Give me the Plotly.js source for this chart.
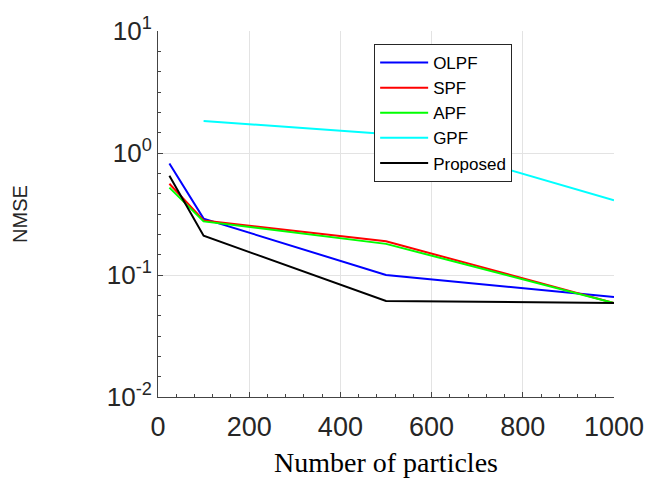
<!DOCTYPE html>
<html>
<head>
<meta charset="utf-8">
<script src="https://cdn.plot.ly/plotly-3.0.1.min.js"></script>
<style>html,body{margin:0;padding:0;background:#fff;}#chart{width:647px;height:480px;}</style>
</head>
<body>
<div id="chart"></div>
<script>
var particles = [25, 100, 500, 1000];
var gpfParticles = [100, 500, 1000];
var olpf = [0.82, 0.29, 0.10, 0.066];
var spf = [0.56, 0.28, 0.189, 0.059];
var apf = [0.52, 0.275, 0.18, 0.059];
var gpf = [1.83, 1.43, 0.41];
var proposed = [0.65, 0.21, 0.0612, 0.059];
var yTickVals = [0.01, 0.1, 1, 10];
var yTickText = ['10<sup>-2</sup>', '10<sup>-1</sup>', '10<sup>0</sup>', '10<sup>1</sup>'];
var xTickVals = [0, 200, 400, 600, 800, 1000];

var yMinor = [];
for (var k = -12; k <= 6; k++) { if (k % 6 !== 0) yMinor.push(Math.pow(10, k / 6)); }

function tr(x, y, name, color) {
  return {x: x, y: y, name: name, type: 'scatter', mode: 'lines',
          line: {color: color, width: 2}};
}
var data = [
  tr(particles, olpf, 'OLPF', '#0000ff'),
  tr(particles, spf, 'SPF', '#ff0000'),
  tr(particles, apf, 'APF', '#00ff00'),
  tr(gpfParticles, gpf, 'GPF', '#00ffff'),
  tr(particles, proposed, 'Proposed', '#000000')
];
var layout = {
  width: 647, height: 480,
  margin: {l: 158, r: 33, t: 31, b: 83},
  paper_bgcolor: '#fff', plot_bgcolor: '#fff',
  font: {family: 'Liberation Sans, Arial, sans-serif', color: '#262626'},
  showlegend: true,
  legend: {x: 0.474, y: 0.9645, xanchor: 'left', yanchor: 'top',
           bgcolor: '#fff', bordercolor: '#262626', borderwidth: 1,
           itemwidth: 48,
           font: {size: 17, color: '#000'}, tracegroupgap: 0},
  xaxis: {
    range: [0, 1000], tickmode: 'array', tickvals: xTickVals,
    ticks: 'inside', ticklen: 5, tickcolor: '#444', ticklabelstandoff: 6,
    showline: true, linecolor: '#444', linewidth: 1,
    showgrid: true, gridcolor: '#e3e3e3', gridwidth: 1, zeroline: false,
    tickfont: {size: 27, color: '#262626'},
    minor: {dtick: 40, ticks: 'inside', ticklen: 3, tickcolor: '#444', showgrid: false},
    title: {text: 'Number of particles', font: {family: 'Liberation Serif, Times New Roman, serif', size: 28, color: '#000'}, standoff: 10}
  },
  yaxis: {
    type: 'log', range: [-2, 1], tickmode: 'array', tickvals: yTickVals, ticktext: yTickText,
    ticks: 'inside', ticklen: 5, tickcolor: '#444',
    showline: true, linecolor: '#444', linewidth: 1,
    showgrid: true, gridcolor: '#e3e3e3', gridwidth: 1, zeroline: false,
    tickfont: {size: 26, color: '#262626'},
    minor: {tickmode: 'array', tickvals: yMinor, ticks: 'inside', ticklen: 3, tickcolor: '#444', showgrid: false},
    title: {text: 'NMSE', font: {size: 20, color: '#262626'}, standoff: 73}
  }
};
Plotly.newPlot('chart', data, layout, {staticPlot: true, displayModeBar: false});
</script>
</body>
</html>
